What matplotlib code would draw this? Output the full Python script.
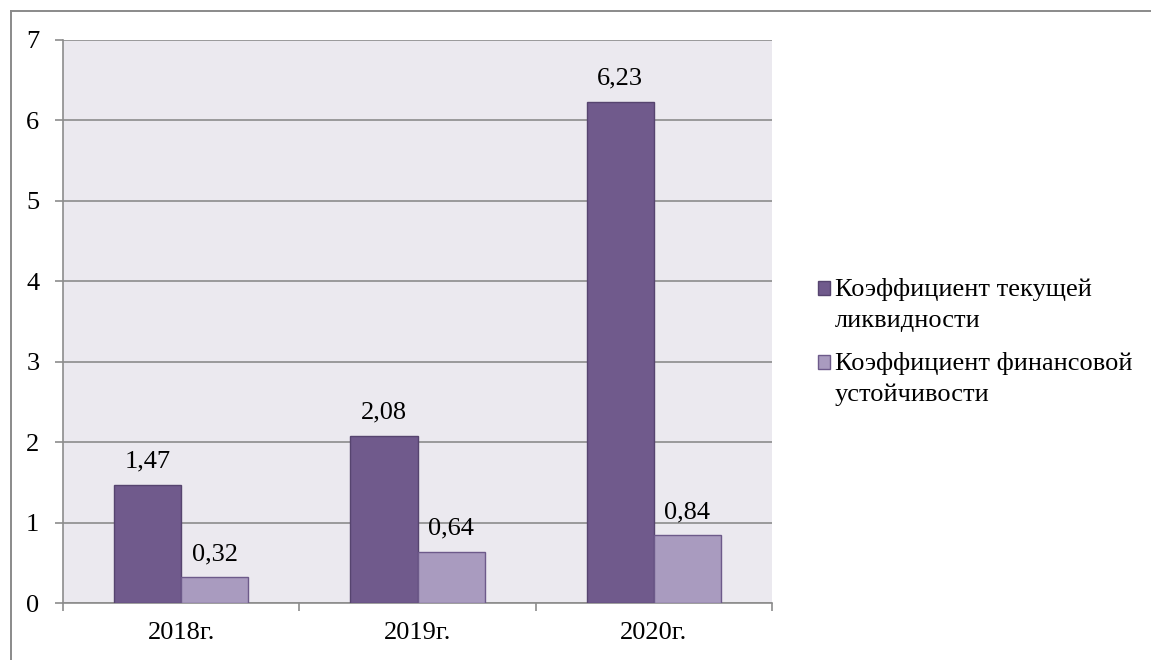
import numpy as np
import matplotlib
matplotlib.use('Agg')
import matplotlib.pyplot as plt
from matplotlib.patches import Rectangle
from matplotlib.lines import Line2D
from matplotlib.container import BarContainer
from matplotlib.legend_handler import HandlerPatch, update_from_first_child

plt.rcParams['font.family'] = ['Liberation Serif', 'DejaVu Serif']

years = ['2018г.', '2019г.', '2020г.']
liquidity = [1.47, 2.08, 6.23]
stability = [0.32, 0.64, 0.84]
series_names = ['Коэффициент текущей\nликвидности', 'Коэффициент финансовой\nустойчивости']

W, H = 1151, 660
FS = 19
fig = plt.figure(figsize=(W / 100, H / 100), dpi=100)

# outer frame of the chart area (top and left edges)
fx, fy = 10.5 / W, (H - 10.5) / H
fig.add_artist(Line2D([fx, 1.0], [fy, fy], transform=fig.transFigure, color='#8a8a8a', lw=1.4))
fig.add_artist(Line2D([fx, fx], [0, fy], transform=fig.transFigure, color='#8a8a8a', lw=1.4))

ax = fig.add_axes([63 / W, (H - 603) / H, (772 - 63) / W, (603 - 40) / H])
ax.set_facecolor('#ebe9ef')

x = np.arange(len(years))
bw = 0.284
b1 = ax.bar(x - bw / 2, liquidity, bw, color='#705a8c', edgecolor='#56446f', linewidth=1, zorder=3)
b2 = ax.bar(x + bw / 2, stability, bw, color='#a99bbf', edgecolor='#6d5a8a', linewidth=1, zorder=3)

for bars, vals in ((b1, liquidity), (b2, stability)):
    for r, v in zip(bars, vals):
        ax.text(r.get_x() + r.get_width() / 2, v + 0.15, f'{v:.2f}'.replace('.', ','),
                ha='center', va='bottom', fontsize=FS)

ax.set_xlim(-0.5, 2.5)
ax.set_ylim(0, 7)
ax.set_yticks(range(8))
ax.yaxis.grid(True, color='#8c8c8c', linewidth=1.2, zorder=0)
ax.set_axisbelow(True)

ax.set_xticks([-0.5, 0.5, 1.5, 2.5], minor=False)
ax.set_xticklabels([])
ax.set_xticks(x, minor=True)
ax.set_xticklabels(years, minor=True)
ax.tick_params(axis='x', which='minor', length=0, pad=14, labelsize=FS)
ax.tick_params(axis='x', which='major', length=6, width=1.2, color='#8c8c8c')
ax.tick_params(axis='y', length=6, width=1.2, color='#8c8c8c', pad=11, labelsize=FS)

for s in ['top', 'right']:
    ax.spines[s].set_visible(False)
for s in ['left', 'bottom']:
    ax.spines[s].set_color('#8c8c8c')
    ax.spines[s].set_linewidth(1.2)


# legend square sits next to the first line of a two-line label
def top_square(legend, orig_handle, xdescent, ydescent, width, height, fontsize):
    return Rectangle((-xdescent, -ydescent + 0.6 * fontsize), width, height)


leg = fig.legend([b1, b2], series_names, loc='upper left', bbox_to_anchor=(794 / W, (H - 254) / H),
                 frameon=False, fontsize=FS, handlelength=0.45, handleheight=0.45,
                 handletextpad=0.2, labelspacing=0.76,
                 handler_map={BarContainer: HandlerPatch(patch_func=top_square,
                                                         update_func=update_from_first_child)})
for t in leg.get_texts():
    t.set_linespacing(1.52)

fig.savefig('out.png', dpi=100)
